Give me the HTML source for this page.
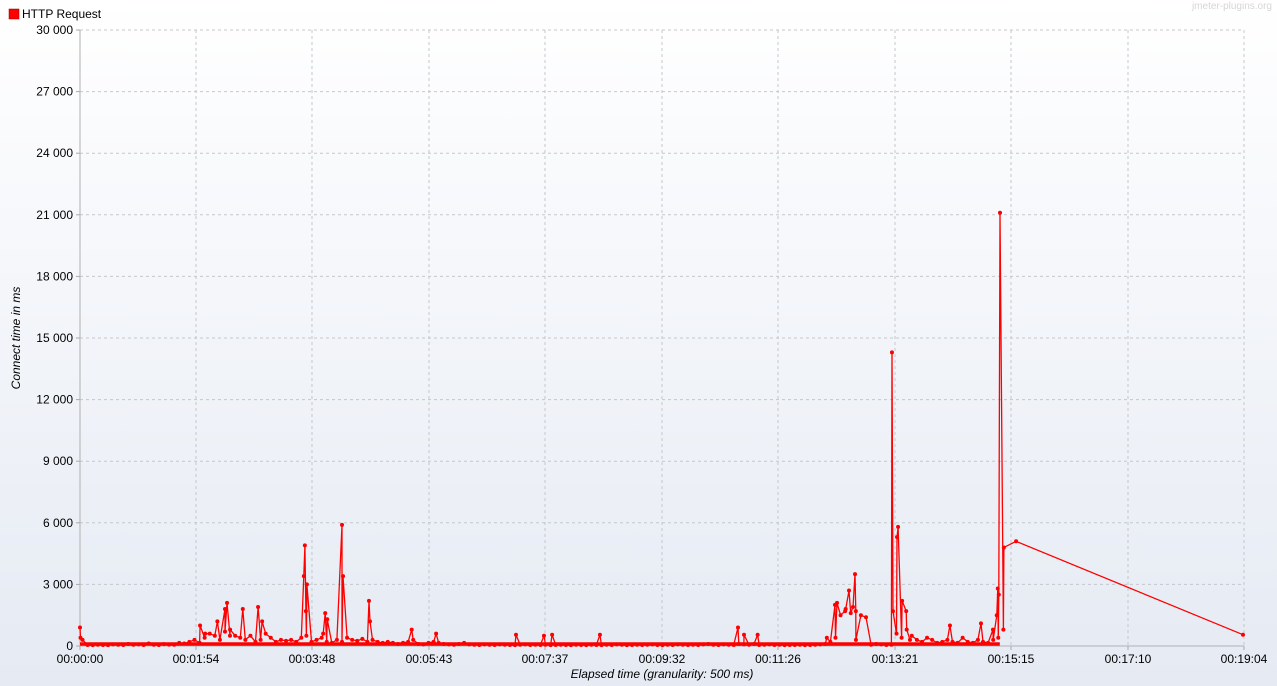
<!DOCTYPE html>
<html><head><meta charset="utf-8"><style>
html,body{margin:0;padding:0;width:1277px;height:686px;overflow:hidden}
body{background:linear-gradient(#ffffff,#e6ebf4);font-family:"Liberation Sans",sans-serif}
svg{position:absolute;left:0;top:0}
</style></head><body>
<svg id="chart" width="1277" height="686">
<defs><linearGradient id="bg" x1="0" y1="0" x2="0" y2="1"><stop offset="0" stop-color="#ffffff"/><stop offset="1" stop-color="#e5eaf3"/></linearGradient></defs>
<rect x="0" y="0" width="1277" height="686" fill="url(#bg)"/>
<g>
<rect x="9" y="9" width="10" height="10" fill="#ff0000" stroke="#900" stroke-width="0.5"/>
<text x="22" y="18" font-size="12" fill="#000">HTTP Request</text>
</g>
<text x="1272" y="9" font-size="10" fill="#d6d6d6" text-anchor="end">jmeter-plugins.org</text>
<g id="grid"></g>
<g id="axes"></g>
<text transform="translate(20,338) rotate(-90)" font-size="12" font-style="italic" text-anchor="middle">Connect time in ms</text>
<text x="662" y="678" font-size="12" font-style="italic" text-anchor="middle">Elapsed time (granularity: 500 ms)</text>
<g id="series"></g>
</svg>
<script>
const yTicks=[0,3000,6000,9000,12000,15000,18000,21000,24000,27000,30000];
const xTickSeconds=[0,114,228,343,457,572,686,801,915,1030,1144];
const xTickLabels=["00:00:00","00:01:54","00:03:48","00:05:43","00:07:37","00:09:32","00:11:26","00:13:21","00:15:15","00:17:10","00:19:04"];
const spikeTimes=[0,0.5,118,123,135,142.5,144.5,147.4,160,175,179,220,221,222,223,239,241,243,257.5,258.5,284,285,326,350,428.5,456,464,511,646.7,652.6,666,734,742,744,752,755.8,759.7,761.7,762.6,798,799,803,804,808,812,815.7,855,885.5,897.3,901,902,903,904.2,908,920,1143];
const spikeValues=[900,400,1000,600,1200,1800,2100,500,1800,1900,1200,3400,4900,1700,3000,600,1600,1300,5900,3400,2200,1200,800,600,550,500,550,550,900,550,550,400,2000,2100,1700,2700,1900,3500,300,14300,1700,5300,5800,2200,1700,300,1000,1100,800,1500,2800,2500,21100,4800,5100,550];
const baselineValues=[300,50,40,60,50,40,80,60,50,100,
60,80,50,120,60,50,90,70,60,150,
120,200,300,150,400,600,500,300,700,800,
500,400,300,500,200,300,600,400,200,300,
250,300,200,400,500,200,300,400,200,150,
300,200,400,300,250,350,200,300,200,150,
200,150,100,150,200,300,100,80,150,200,
150,100,80,60,100,150,80,60,50,80,
60,50,80,60,50,40,60,80,50,60,
50,60,40,50,60,50,40,60,50,40,
60,50,40,60,50,80,60,40,50,60,
50,60,80,50,40,60,50,80,60,50,
60,50,80,100,60,50,80,60,50,100,
80,60,100,50,60,80,50,60,40,50,
50,60,40,50,60,80,100,200,400,1500,
1800,1600,1700,1500,1400,60,100,80,50,60,
600,400,800,500,300,200,400,300,150,200,
300,200,150,400,200,150,300,200,150,300,
400,800];
const baselineStep=5;

const NS="http://www.w3.org/2000/svg";
const X0=80,X1=1244,Y0=646,Y1=30,TMAX=1144,VMAX=30000;
const xs=t=>X0+(t/TMAX)*(X1-X0);
const ys=v=>Y0-(v/VMAX)*(Y0-Y1);
function mk(tag,attrs,parent){const e=document.createElementNS(NS,tag);for(const k in attrs)e.setAttribute(k,attrs[k]);parent.appendChild(e);return e;}
const grid=document.getElementById('grid'),axes=document.getElementById('axes'),series=document.getElementById('series');

yTicks.forEach(v=>{
  const y=ys(v);
  if(v>0){const l=mk('line',{x1:X0,x2:X1,y1:y,y2:y,stroke:'#c4c8cc','stroke-dasharray':'3,3','stroke-width':1},grid);
  
  }
  const tk=mk('line',{x1:X0-4,x2:X0,y1:y,y2:y,stroke:'#aaa'},axes);
  
  
  const t=mk('text',{x:X0-7,y:y+4,'font-size':12,'text-anchor':'end',fill:'#000'},axes);
  t.textContent=v===0?'0':v.toLocaleString('en-US').replace(/,/g,' ');
  
  
});
xTickSeconds.forEach((s,i)=>{
  const x=xs(s);
  if(i>0){const l=mk('line',{x1:x,x2:x,y1:Y1,y2:Y0,stroke:'#c4c8cc','stroke-dasharray':'3,3','stroke-width':1},grid);
  
  }
  const tk=mk('line',{x1:x,x2:x,y1:Y0,y2:Y0+4,stroke:'#aaa'},axes);
  
  
  const t=mk('text',{x:x,y:Y0+17,'font-size':12,'text-anchor':'middle',fill:'#000'},axes);
  t.textContent=xTickLabels[i];
  
  
});
const ax1=mk('line',{x1:X0,x2:X0,y1:Y1,y2:Y0,stroke:'#b0b0b0'},axes);


const ax2=mk('line',{x1:X0,x2:X1,y1:Y0,y2:Y0,stroke:'#b0b0b0'},axes);



const pts=[];
spikeTimes.forEach((t,i)=>pts.push([t,spikeValues[i]]));
baselineValues.forEach((v,i)=>pts.push([i*baselineStep+2.5,v]));
pts.sort((a,b)=>a[0]-b[0]);
const d=pts.map((p,i)=>(i?'L':'M')+xs(p[0]).toFixed(1)+','+ys(p[1]).toFixed(1)).join('');
const path=mk('path',{d:d,fill:'none',stroke:'#ff0000','stroke-width':1.3,'stroke-linejoin':'round'},series);


const base=mk('line',{x1:X0,x2:xs(904),y1:Y0-2,y2:Y0-2,stroke:'#ff0000','stroke-width':3.5},series);


pts.forEach(p=>{
  const c=mk('circle',{cx:xs(p[0]),cy:ys(p[1]),r:2,fill:'#ff0000'},series);
  
  
});
</script>
</body></html>
